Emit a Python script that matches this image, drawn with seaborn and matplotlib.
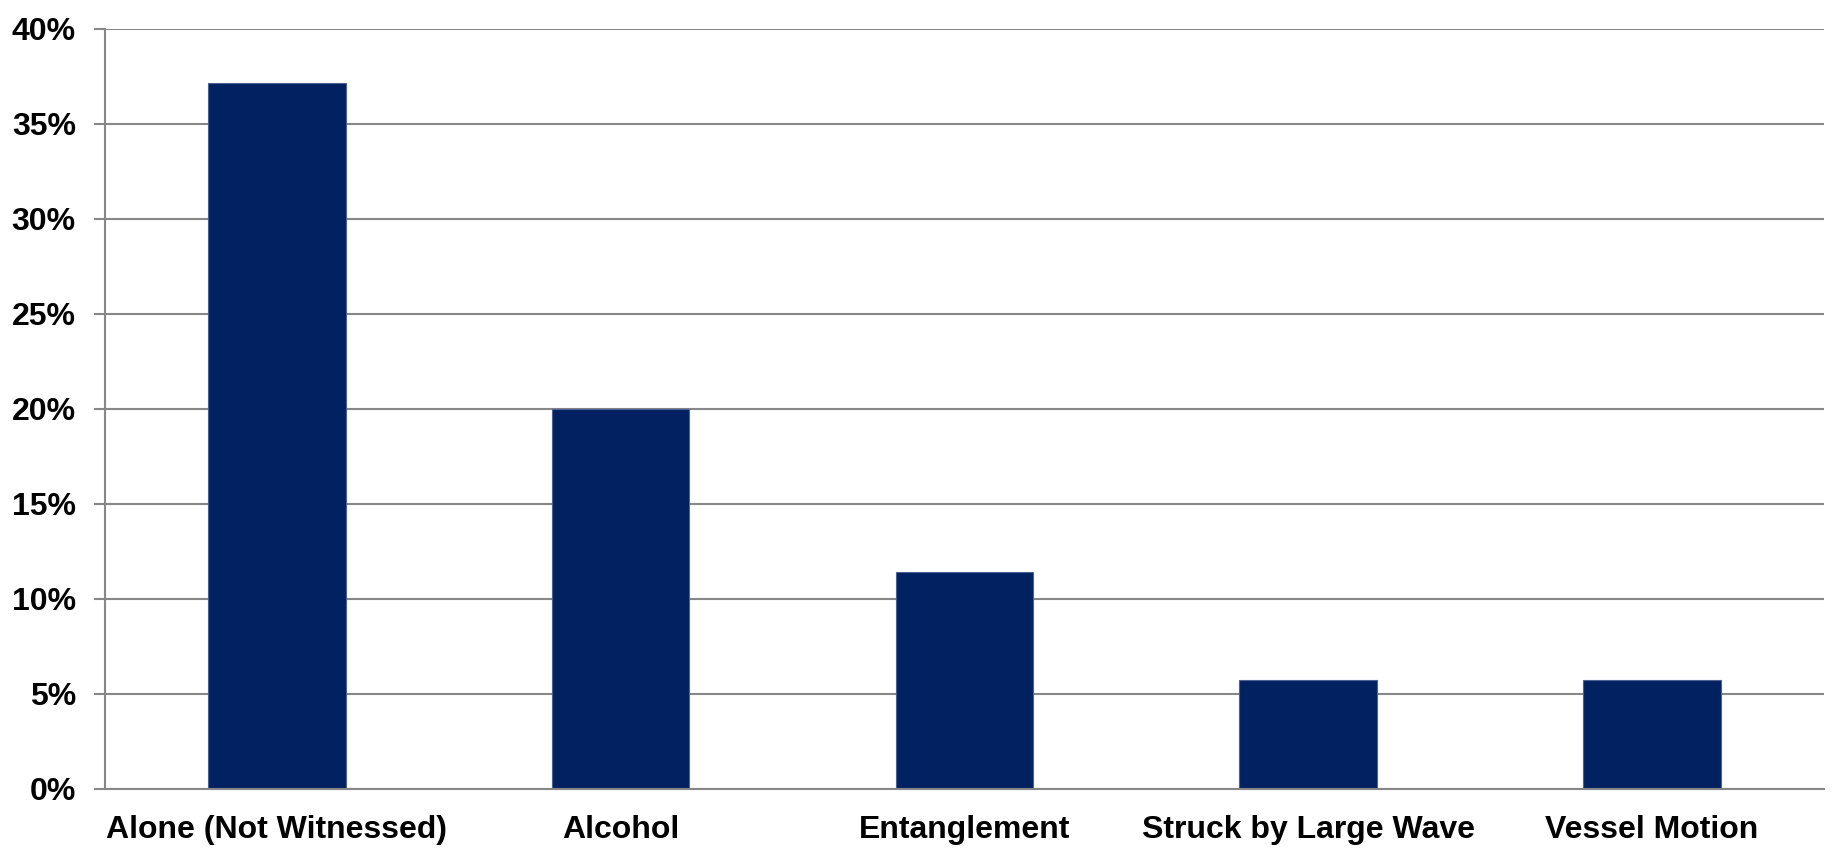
import matplotlib
matplotlib.use("Agg")
import matplotlib.pyplot as plt
import seaborn as sns
import pandas as pd
from matplotlib.ticker import FixedLocator, FuncFormatter

causes = ["Alone (Not Witnessed)", "Alcohol", "Entanglement",
          "Struck by Large Wave", "Vessel Motion"]
shares = [37.14, 20.0, 11.43, 5.71, 5.71]
y_ticks = [0, 5, 10, 15, 20, 25, 30, 35, 40]

sns.set_theme(style="white")
plt.rcParams["font.family"] = ["Liberation Sans", "DejaVu Sans"]
plt.rcParams["font.weight"] = "bold"

df = pd.DataFrame({"cause": causes, "share": shares})

fig = plt.figure(figsize=(18.35, 8.51), dpi=100)
ax = fig.add_axes([0.0572, 0.073, 0.9366, 0.8935])

grid_c = "#878787"
sns.barplot(data=df, x="cause", y="share", color="#022160", width=0.4,
            saturation=1, edgecolor="#4b6296", linewidth=0.8, ax=ax)

ax.set_ylim(0, 40)
ax.set_xlim(-0.5, len(causes) - 0.5)
ax.set_yticks(y_ticks)
ax.yaxis.set_major_formatter(FuncFormatter(lambda v, _: f"{v:.0f}%"))
ax.set_axisbelow(True)
ax.yaxis.grid(True, color=grid_c, linewidth=1.5)
ax.xaxis.grid(False)

ax.xaxis.set_minor_locator(FixedLocator([i - 0.5 for i in range(len(causes) + 1)]))
ax.tick_params(axis="x", which="major", length=0, pad=19, labelsize=23)
ax.tick_params(axis="x", which="minor", length=8, width=1.5, color=grid_c)
ax.tick_params(axis="y", which="major", length=8, width=1.5, color=grid_c,
               pad=13, labelsize=23, left=True)
for lab in ax.get_xticklabels() + ax.get_yticklabels():
    lab.set_fontweight("bold")
    lab.set_color("black")

ax.set_xlabel("")
ax.set_ylabel("")
for side in ["top", "right"]:
    ax.spines[side].set_visible(False)
for side in ["left", "bottom"]:
    ax.spines[side].set_color(grid_c)
    ax.spines[side].set_linewidth(1.5)

fig.savefig("out.png", dpi=100, facecolor="white")
